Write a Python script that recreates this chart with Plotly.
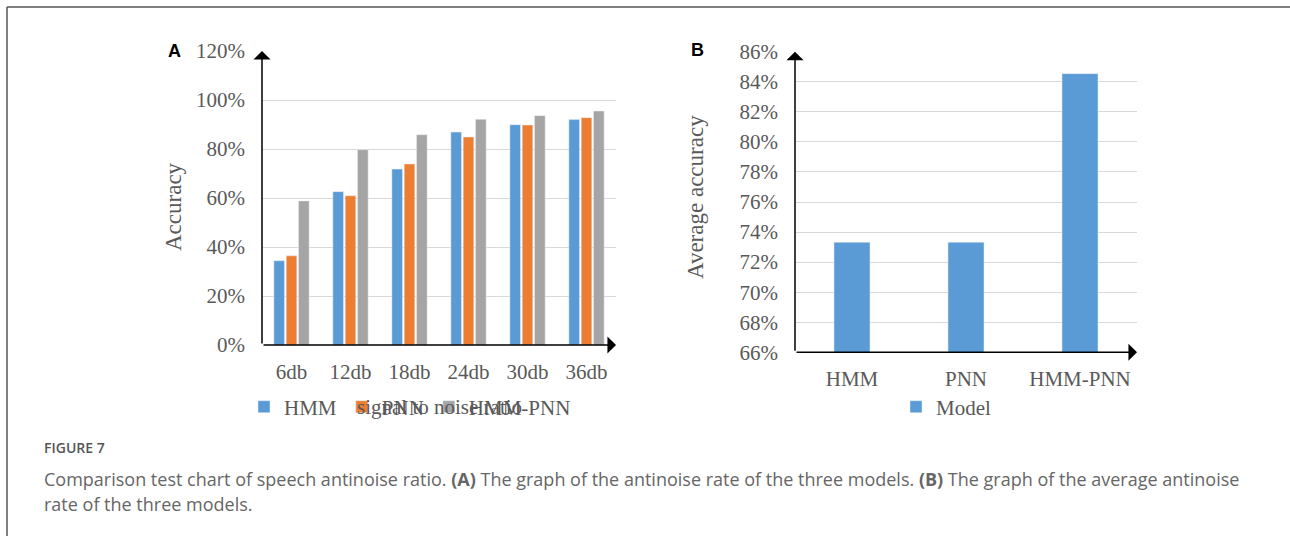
import plotly.graph_objects as go

W, H = 1290, 536

# ---- data ----
snr_labels = ["6db", "12db", "18db", "24db", "30db", "36db"]
hmm_acc = [0.344, 0.626, 0.718, 0.869, 0.899, 0.920]
pnn_acc = [0.364, 0.609, 0.739, 0.849, 0.898, 0.928]
hmmpnn_acc = [0.588, 0.797, 0.858, 0.921, 0.936, 0.955]

model_labels = ["HMM", "PNN", "HMM-PNN"]
avg_acc = [0.7332, 0.7332, 0.8454]

a_ticks = [0, 0.2, 0.4, 0.6, 0.8, 1.0, 1.2]
b_ticks = [0.66, 0.68, 0.70, 0.72, 0.74, 0.76, 0.78, 0.80, 0.82, 0.84, 0.86]

BLUE, ORANGE, GRAY = "#5b9bd5", "#ed7d31", "#a5a5a5"
TXT = "#595959"
SERIF = "Liberation Serif"


def px(x):
    return x / W


def py(y):
    return 1 - y / H


fig = go.Figure()
fig.add_trace(go.Bar(x=snr_labels, y=hmm_acc, name="HMM", marker_color=BLUE,
                     xaxis="x", yaxis="y", legend="legend"))
fig.add_trace(go.Bar(x=snr_labels, y=pnn_acc, name="PNN", marker_color=ORANGE,
                     xaxis="x", yaxis="y", legend="legend"))
fig.add_trace(go.Bar(x=snr_labels, y=hmmpnn_acc, name="HMM-PNN", marker_color=GRAY,
                     xaxis="x", yaxis="y", legend="legend"))
fig.add_trace(go.Bar(x=model_labels, y=avg_acc, name="Model", marker_color=BLUE,
                     width=0.316, xaxis="x2", yaxis="y2", legend="legend2"))

# panel geometry (pixels)
A_L, A_R, A_T, A_B = 262, 616, 51, 345
B_L, B_R, B_T, B_B = 795, 1137, 51.7, 352.3

tickfont = dict(family=SERIF, size=21, color=TXT)
common_x = dict(showgrid=False, showline=False, zeroline=False, ticks="",
                tickfont=tickfont, fixedrange=True, ticklabelstandoff=12,
                automargin=False)
common_y = dict(showgrid=True, gridcolor="#d9d9d9", gridwidth=1, showline=False,
                zeroline=False, ticks="", tickfont=tickfont, tickformat=".0%",
                ticklabelstandoff=16, automargin=False)

legfont = dict(family=SERIF, size=21, color=TXT)
fig.update_layout(
    width=W, height=H,
    margin=dict(l=0, r=0, t=0, b=0, pad=0, autoexpand=False),
    paper_bgcolor="white", plot_bgcolor="white",
    barmode="group", bargap=0.373, bargroupgap=0.14,
    xaxis=dict(domain=[px(A_L), px(A_R)], anchor="y", **common_x),
    yaxis=dict(domain=[py(A_B), py(A_T)], anchor="x", range=[0, 1.2],
               tickvals=a_ticks, **common_y),
    xaxis2=dict(domain=[px(B_L), px(B_R)], anchor="y2", **common_x),
    yaxis2=dict(domain=[py(B_B), py(B_T)], anchor="x2", range=[0.66, 0.86],
                tickvals=b_ticks, **common_y),
    legend=dict(orientation="h", x=px(410), xanchor="center", y=py(407),
                yanchor="middle", font=legfont, bgcolor="rgba(0,0,0,0)",
                itemwidth=30, tracegroupgap=0),
    legend2=dict(orientation="h", x=px(946), xanchor="center", y=py(407),
                 yanchor="middle", font=legfont, bgcolor="rgba(0,0,0,0)", itemwidth=30),
    showlegend=True,
)

# axis arrows
def arrow(x0, y0, x1, y1):
    fig.add_annotation(x=px(x1), y=py(y1), xref="paper", yref="paper",
                       ax=x0 - x1, ay=y0 - y1, axref="pixel", ayref="pixel",
                       text="", showarrow=True, arrowhead=1, arrowsize=1.9,
                       arrowwidth=1.5, arrowcolor="black")

arrow(A_L, A_B, A_L, A_T)
arrow(A_L, A_B, A_R, A_B)
arrow(B_L, B_B, B_L, B_T)
arrow(B_L, B_B, B_R, B_B)


def label(x, y, text, font, angle=0, xanchor="center"):
    fig.add_annotation(x=px(x), y=py(y), xref="paper", yref="paper", text=text,
                       textangle=angle, showarrow=False, font=font,
                       xanchor=xanchor, yanchor="middle")


# axis titles
titlefont = dict(family=SERIF, size=23, color=TXT)
label(173, 207, "Accuracy", titlefont, angle=-90)
label(695, 197, "Average accuracy", titlefont, angle=-90)
label(439, 407, "signal to noise ratio", dict(family=SERIF, size=21, color=TXT))

# panel letters
letterfont = dict(family="Liberation Sans", size=18, color="black")
label(174, 51, "<b>A</b>", letterfont)
label(697, 50, "<b>B</b>", letterfont)

# caption
capfont = dict(family="Open Sans", size=18, color="#666666")
label(42, 447, "FIGURE 7", dict(family="Open Sans", size=14, color="#555555", weight=600),
      xanchor="left")
label(42, 479, "Comparison test chart of speech antinoise ratio. <b>(A)</b> The graph of the "
               "antinoise rate of the three models. <b>(B)</b> The graph of the average antinoise",
      capfont, xanchor="left")
label(42, 504, "rate of the three models.", capfont, xanchor="left")

# frame
fig.add_shape(type="line", xref="paper", yref="paper", x0=px(7), y0=py(7), x1=1, y1=py(7),
              line=dict(color="#555555", width=1.5))
fig.add_shape(type="line", xref="paper", yref="paper", x0=px(7), y0=py(7), x1=px(7), y1=0,
              line=dict(color="#555555", width=1.5))

fig.write_html("out.html")
